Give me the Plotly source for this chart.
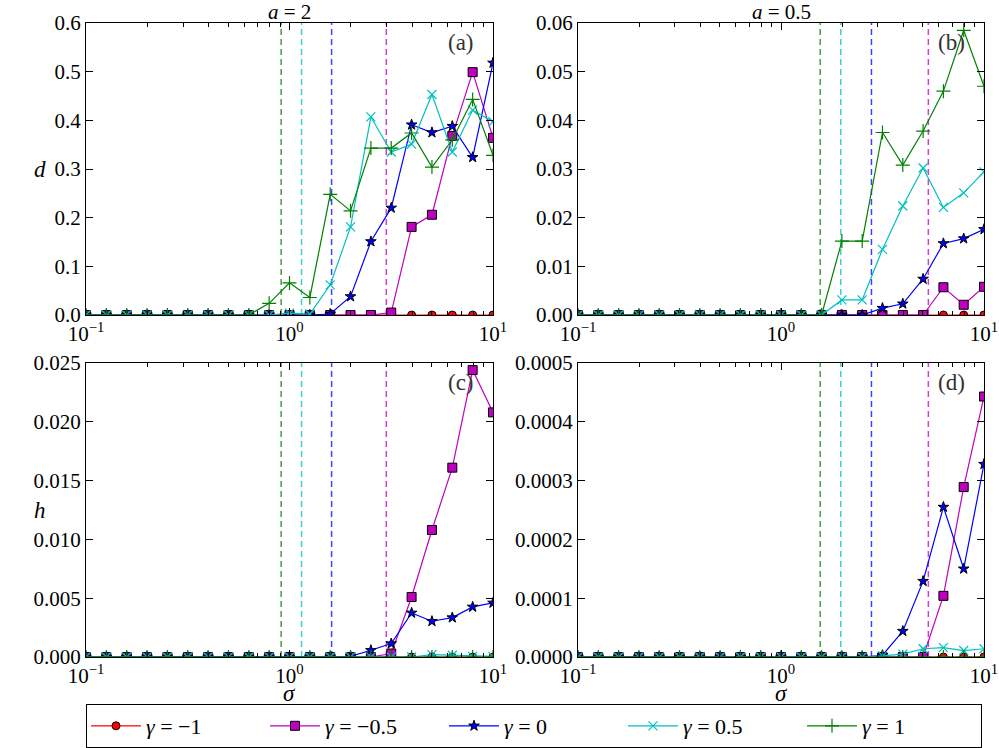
import plotly.graph_objects as go

# ---------------- data ----------------
sigma = [0.1, 0.1259, 0.1585, 0.1995, 0.2512, 0.3162, 0.3981, 0.5012, 0.631, 0.7943,
         1.0, 1.259, 1.585, 1.995, 2.512, 3.162, 3.981, 5.012, 6.31, 7.943, 10.0]

gamma_labels = ["<i>γ</i> = −1", "<i>γ</i> = −0.5", "<i>γ</i> = 0", "<i>γ</i> = 0.5", "<i>γ</i> = 1"]

# panel (a): d, a = 2
d_a2_gm1 = [0.0] * 21
d_a2_gm05 = [0.0] * 15 + [0.005, 0.181, 0.206, 0.368, 0.499, 0.364]
d_a2_g0 = [0.0] * 12 + [0.002, 0.038, 0.151, 0.220, 0.391, 0.375, 0.388, 0.324, 0.518]
d_a2_g05 = [0.0] * 10 + [0.004, 0.002, 0.062, 0.181, 0.407, 0.335, 0.351, 0.453, 0.335, 0.421, 0.397]
d_a2_g1 = [0.0] * 9 + [0.024, 0.066, 0.036, 0.248, 0.214, 0.343, 0.343, 0.374, 0.304, 0.360, 0.443, 0.328]

# panel (b): d, a = 0.5
d_a05_gm1 = [0.0] * 21
d_a05_gm05 = [0.0] * 18 + [0.0057, 0.0021, 0.0058]
d_a05_g0 = [0.0] * 15 + [0.0014, 0.0023, 0.0074, 0.0147, 0.0157, 0.0176]
d_a05_g05 = [0.0] * 13 + [0.0031, 0.0031, 0.0135, 0.0224, 0.0302, 0.0221, 0.0251, 0.0294]
d_a05_g1 = [0.0] * 13 + [0.0152, 0.0152, 0.0375, 0.0308, 0.0378, 0.0460, 0.0585, 0.0470]

# panel (c): h, a = 2
h_a2_gm1 = [0.0] * 21
h_a2_gm05 = [0.0] * 15 + [0.0003, 0.0051, 0.0108, 0.0161, 0.0244, 0.0208]
h_a2_g0 = [0.0] * 13 + [0.00005, 0.00057, 0.00114, 0.00375, 0.00304, 0.00335, 0.00426, 0.0046]
h_a2_g05 = [0.0] * 17 + [0.0002, 0.00015, 0.00005, 0.00005]
h_a2_g1 = [0.0] * 21

# panel (d): h, a = 0.5
h_a05_gm1 = [0.0] * 21
h_a05_gm05 = [0.0] * 18 + [0.000104, 0.000289, 0.000443]
h_a05_g0 = [0.0] * 15 + [0.000003, 0.000044, 0.000129, 0.000255, 0.000150, 0.000328]
h_a05_g05 = [0.0] * 15 + [0.000002, 0.000005, 0.000014, 0.000016, 0.000011, 0.000014]
h_a05_g1 = [0.0] * 21

# critical sigma (dashed vertical lines), order: gamma = 1, 0.5, 0, -0.5
crit_a2 = [0.91, 1.146, 1.61, 2.99]
crit_a05 = [1.56, 1.97, 2.79, 5.32]

y_ranges = [[0, 0.6], [0, 0.06], [0, 0.025], [0, 0.0005]]
y_dticks = [0.1, 0.01, 0.005, 0.0001]
y_formats = [".1f", ".2f", ".3f", ".4f"]
panel_tags = ["(a)", "(b)", "(c)", "(d)"]
x_tickvals = [0.1, 1, 10]
x_ticktext = ["10<sup>−1</sup>", "10<sup>0</sup>", "10<sup>1</sup>"]
x_minorvals = [0.2, 0.3, 0.4, 0.5, 0.6, 0.7, 0.8, 0.9, 2, 3, 4, 5, 6, 7, 8, 9]

# ---------------- styles ----------------
colors = ["#ff0000", "#bf00bf", "#0000ff", "#00bfbf", "#008000"]
symbols = ["circle", "square", "star", "x-thin-open", "cross-thin-open"]
sizes = [8, 9, 8, 9, 10]
dash_colors = ["rgba(0,128,0,0.75)", "rgba(0,191,191,0.75)", "rgba(0,0,255,0.75)", "rgba(191,0,191,0.75)"]

panels = [
    ([d_a2_gm1, d_a2_gm05, d_a2_g0, d_a2_g05, d_a2_g1], crit_a2),
    ([d_a05_gm1, d_a05_gm05, d_a05_g0, d_a05_g05, d_a05_g1], crit_a05),
    ([h_a2_gm1, h_a2_gm05, h_a2_g0, h_a2_g05, h_a2_g1], crit_a2),
    ([h_a05_gm1, h_a05_gm05, h_a05_g0, h_a05_g05, h_a05_g1], crit_a05),
]

FONT = "Liberation Serif, DejaVu Serif, serif"
FS = 21

fig = go.Figure()

for p, (series, crits) in enumerate(panels):
    xa = "x" if p == 0 else f"x{p+1}"
    ya = "y" if p == 0 else f"y{p+1}"
    top = y_ranges[p][1]
    for c, col in zip(crits, dash_colors):
        fig.add_trace(go.Scatter(
            x=[c, c], y=[0, top], mode="lines", xaxis=xa, yaxis=ya,
            line=dict(color=col, width=1.5, dash="6px,4px"),
            showlegend=False, hoverinfo="skip"))
    for i, ys in enumerate(series):
        open_sym = symbols[i].endswith("open")
        marker = dict(symbol=symbols[i], size=sizes[i], color=colors[i])
        if open_sym:
            marker["line"] = dict(color=colors[i], width=1.2)
        else:
            marker["line"] = dict(color="black", width=1)
        fig.add_trace(go.Scatter(
            x=sigma, y=ys, mode="lines+markers", xaxis=xa, yaxis=ya,
            name=gamma_labels[i], legendgroup=str(i),
            showlegend=(p == 0),
            line=dict(color=colors[i], width=1.2),
            marker=marker))

# ---------------- layout ----------------
W, H = 999, 748
ml, mr, mt, mb = 86, 15, 23, 91
pw = W - ml - mr
ph = H - mt - mb

def fx(px):
    return (px - ml) / pw

def fy(py):
    return (H - mb - py) / ph

x_domains = [[0, fx(493)], [fx(578), 1], [0, fx(493)], [fx(578), 1]]
y_domains = [[fy(315), 1], [fy(315), 1], [0, fy(363)], [0, fy(363)]]

layout = dict(
    width=W, height=H,
    margin=dict(l=ml, r=mr, t=mt, b=mb, autoexpand=False),
    paper_bgcolor="white", plot_bgcolor="white",
    font=dict(family=FONT, size=FS, color="black"),
    showlegend=True,
    legend=dict(
        orientation="h", x=0, y=fy(704), xanchor="left", yanchor="top",
        bordercolor="black", borderwidth=1, bgcolor="white",
        font=dict(family=FONT, size=FS + 1), entrywidth=114, itemwidth=50,
        tracegroupgap=0),
)

for p in range(4):
    xk = "xaxis" if p == 0 else f"xaxis{p+1}"
    yk = "yaxis" if p == 0 else f"yaxis{p+1}"
    ya = "y" if p == 0 else f"y{p+1}"
    xa = "x" if p == 0 else f"x{p+1}"
    layout[xk] = dict(
        type="log", domain=x_domains[p], range=[-1, 1], anchor=ya,
        showline=True, linecolor="black", linewidth=1, mirror="ticks",
        ticks="inside", ticklen=7, tickcolor="black",
        tickmode="array", tickvals=x_tickvals, ticktext=x_ticktext,
        minor=dict(ticks="inside", ticklen=4, tickcolor="black", showgrid=False,
                   tickmode="array", tickvals=x_minorvals),
        showgrid=False, zeroline=False, tickfont=dict(family=FONT, size=FS))
    layout[yk] = dict(
        domain=y_domains[p], range=y_ranges[p], anchor=xa,
        showline=True, linecolor="black", linewidth=1, mirror="ticks",
        ticks="inside", ticklen=7, tickcolor="black",
        dtick=y_dticks[p], tick0=0, tickformat=y_formats[p],
        showgrid=False, zeroline=False, tickfont=dict(family=FONT, size=FS))

annotations = []
for p in range(4):
    xa = "x" if p == 0 else f"x{p+1}"
    ya = "y" if p == 0 else f"y{p+1}"
    annotations.append(dict(
        text=panel_tags[p], xref=f"{xa} domain", yref=f"{ya} domain",
        x=1, y=1, xanchor="right", yanchor="top", xshift=-17, yshift=-5,
        showarrow=False, font=dict(family=FONT, size=FS + 2, color="#333333")))

annotations += [
    dict(text="<i>a</i> = 2", xref="x domain", yref="paper", x=0.5, y=1,
         xanchor="center", yanchor="bottom", yshift=-3, showarrow=False,
         font=dict(family=FONT, size=FS)),
    dict(text="<i>a</i> = 0.5", xref="x2 domain", yref="paper", x=0.5, y=1,
         xanchor="center", yanchor="bottom", yshift=-3, showarrow=False,
         font=dict(family=FONT, size=FS)),
    dict(text="<i>d</i>", xref="paper", yref="y domain", x=fx(40), y=0.5,
         xanchor="center", yanchor="middle", showarrow=False,
         font=dict(family=FONT, size=FS + 2)),
    dict(text="<i>h</i>", xref="paper", yref="y3 domain", x=fx(40), y=0.5,
         xanchor="center", yanchor="middle", showarrow=False,
         font=dict(family=FONT, size=FS + 2)),
    dict(text="<i>σ</i>", xref="x3 domain", yref="paper", x=0.5, y=fy(693),
         xanchor="center", yanchor="middle", showarrow=False,
         font=dict(family=FONT, size=FS + 2)),
    dict(text="<i>σ</i>", xref="x4 domain", yref="paper", x=0.5, y=fy(693),
         xanchor="center", yanchor="middle", showarrow=False,
         font=dict(family=FONT, size=FS + 2)),
]
layout["annotations"] = annotations

fig.update_layout(**layout)
fig.write_html("out.html",
               config={"displayModeBar": False},
               post_script="document.body.style.margin='0px';document.body.style.overflow='hidden';")
